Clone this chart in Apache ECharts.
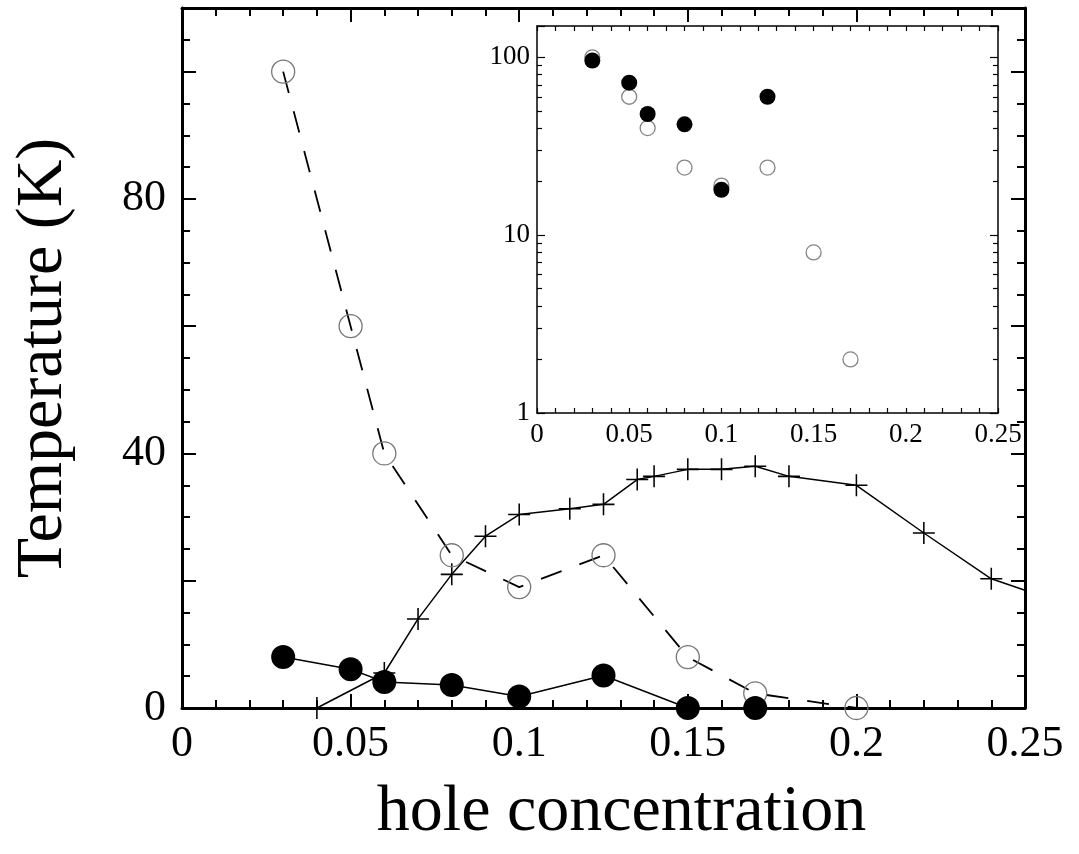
<!DOCTYPE html>
<html>
<head>
<meta charset="utf-8">
<title>hole concentration</title>
<script src="https://cdn.jsdelivr.net/npm/echarts@6/dist/echarts.min.js"></script>
<style>
	html, body { margin: 0; padding: 0; background: #fff; }
	#chart1 { width: 1079px; height: 854px; }
</style>
</head>
<body>
<div id="chart1"></div>
<script>
// 主图数据 (hole concentration vs Temperature)
var yLabels = [0, 40, 80];
var insetYLabels = [1, 10, 100];

// 空心圆 (虚线)
var openX = [0.03, 0.05, 0.06, 0.08, 0.10, 0.125, 0.15, 0.17, 0.20];
var openY = [100, 60, 40, 24, 19, 24, 8, 2.3, 0];

// 实心圆 (实线)
var filledX = [0.03, 0.05, 0.06, 0.08, 0.10, 0.125, 0.15, 0.17];
var filledY = [8, 6.1, 4.1, 3.6, 1.8, 5.1, 0, 0];

// 十字 (实线), 最后一点在右边框上, 不画符号
var crossX = [0.04, 0.06, 0.07, 0.08, 0.09, 0.10, 0.115, 0.125, 0.135, 0.14, 0.15, 0.16, 0.17, 0.18, 0.20, 0.22, 0.24, 0.25];
var crossY = [0, 5.5, 14, 21, 27, 30.4, 31.3, 32, 35.9, 36.4, 37.5, 37.5, 38, 36.4, 35, 27.5, 20.3, 18.5];

// 插图数据 (对数坐标)
var insetOpenX = [0.03, 0.05, 0.06, 0.08, 0.10, 0.125, 0.15, 0.17];
var insetOpenY = [100, 60, 40, 24, 19, 24, 8, 2];
var insetFilledX = [0.03, 0.05, 0.06, 0.08, 0.10, 0.125];
var insetFilledY = [96, 72, 48, 42, 18, 60];

var HoleChart = function() {

	var FONT = 'Liberation Serif';
	var CROSS = 'path://M-1,-0.07L-0.07,-0.07L-0.07,-1L0.07,-1L0.07,-0.07L1,-0.07L1,0.07L0.07,0.07L0.07,1L-0.07,1L-0.07,0.07L-1,0.07Z';

	function pairs(xs, ys) {
		var out = [];
		for (var i = 0; i < xs.length; i++) {
			out.push([xs[i], ys[i]]);
		}
		return out;
	}

	function xAxisOf(grid, pos, main) {
		return {
			type : 'value', gridIndex : grid, position : pos,
			min : 0, max : 0.25, interval : 0.05,
			axisLine : { onZero : false, lineStyle : { color : '#000', width : main ? 3 : 1.5 } },
			axisTick : { inside : true, length : main ? 14 : 5, lineStyle : { color : '#000', width : main ? 2 : 1.2 } },
			minorTick : { show : true, splitNumber : 5, length : main ? 8 : 5, lineStyle : { color : '#000', width : main ? 2 : 1.2 } },
			axisLabel : {
				show : pos === 'bottom', color : '#000', fontFamily : FONT,
				fontSize : main ? 44 : 27, margin : main ? 14 : 8
			},
			splitLine : { show : false }
		};
	}

	function yAxisOf(pos) {
		return {
			type : 'value', gridIndex : 0, position : pos,
			min : 0, max : 110, interval : 20,
			axisLine : { onZero : false, lineStyle : { color : '#000', width : 3 } },
			axisTick : { inside : true, length : 14, lineStyle : { color : '#000', width : 2 } },
			minorTick : { show : true, splitNumber : 4, length : 8, lineStyle : { color : '#000', width : 2 } },
			axisLabel : {
				show : pos === 'left', color : '#000', fontFamily : FONT, fontSize : 44, margin : 16,
				formatter : function(v) { return yLabels.indexOf(v) >= 0 ? String(v) : ''; }
			},
			splitLine : { show : false }
		};
	}

	function logAxisOf(pos) {
		return {
			type : 'log', logBase : 10, gridIndex : 1, position : pos,
			min : 1, max : 150,
			axisLine : { onZero : false, lineStyle : { color : '#000', width : 1.5 } },
			axisTick : { inside : true, length : 8, lineStyle : { color : '#000', width : 1.2 } },
			minorTick : { show : true, splitNumber : 9, length : 5, lineStyle : { color : '#000', width : 1.2 } },
			axisLabel : {
				show : pos === 'left', color : '#000', fontFamily : FONT, fontSize : 27, margin : 7,
				formatter : function(v) {
					var r = Math.round(v);
					return insetYLabels.indexOf(r) >= 0 && Math.abs(v - r) < 1e-6 ? String(r) : '';
				}
			},
			splitLine : { show : false }
		};
	}

	return {

		/**
		 * 绘制图表
		 */
		init : function() {
			var chart1 = echarts.init(document.getElementById('chart1'));

			var crossData = pairs(crossX, crossY);
			crossData[crossData.length - 1] = { value : crossData[crossData.length - 1], symbol : 'none' };

			var xMain = xAxisOf(0, 'bottom', true);
			xMain.name = 'hole concentration';
			xMain.nameLocation = 'middle';
			xMain.nameGap = 72;
			xMain.nameTextStyle = { fontFamily : FONT, fontSize : 66, color : '#000', padding : [0, 0, 0, 36] };

			var yMain = yAxisOf('left');
			yMain.name = 'Temperature (K)';
			yMain.nameLocation = 'middle';
			yMain.nameGap = 105;
			yMain.nameTextStyle = { fontFamily : FONT, fontSize : 66, color : '#000' };

			var options = {
				animation : false,
				backgroundColor : '#fff',
				grid : [
					{ left : 182, top : 8, right : 54, bottom : 146 },
					{ left : 537, top : 26, right : 81, bottom : 441 }
				],
				xAxis : [ xMain, xAxisOf(0, 'top', true), xAxisOf(1, 'bottom', false), xAxisOf(1, 'top', false) ],
				yAxis : [ yMain, yAxisOf('right'), logAxisOf('left'), logAxisOf('right') ],
				series : [
					{
						name : 'cross', type : 'line', xAxisIndex : 0, yAxisIndex : 0,
						data : crossData, symbol : CROSS, symbolSize : 22, showAllSymbol : true,
						lineStyle : { color : '#000', width : 1.5 },
						itemStyle : { color : '#000' }, z : 2
					},
					{
						name : 'open', type : 'line', xAxisIndex : 0, yAxisIndex : 0,
						data : pairs(openX, openY), symbol : 'circle', symbolSize : 23, showAllSymbol : true,
						lineStyle : { color : '#000', width : 1.8, type : [22, 19] },
						itemStyle : { color : 'rgba(0,0,0,0)', borderColor : '#777', borderWidth : 1.3 }, z : 3
					},
					{
						name : 'filled', type : 'line', xAxisIndex : 0, yAxisIndex : 0,
						data : pairs(filledX, filledY), symbol : 'circle', symbolSize : 24, showAllSymbol : true,
						lineStyle : { color : '#000', width : 1.5 },
						itemStyle : { color : '#000' }, z : 4
					},
					{
						name : 'inset open', type : 'scatter', xAxisIndex : 2, yAxisIndex : 2,
						data : pairs(insetOpenX, insetOpenY), symbol : 'circle', symbolSize : 15,
						itemStyle : { color : 'rgba(0,0,0,0)', borderColor : '#666', borderWidth : 1.3 }, z : 5
					},
					{
						name : 'inset filled', type : 'scatter', xAxisIndex : 2, yAxisIndex : 2,
						data : pairs(insetFilledX, insetFilledY), symbol : 'circle', symbolSize : 16,
						itemStyle : { color : '#000', opacity : 1 }, z : 6
					}
				]
			};
			chart1.setOption(options);
		}
	};
}();

HoleChart.init();
</script>
</body>
</html>
